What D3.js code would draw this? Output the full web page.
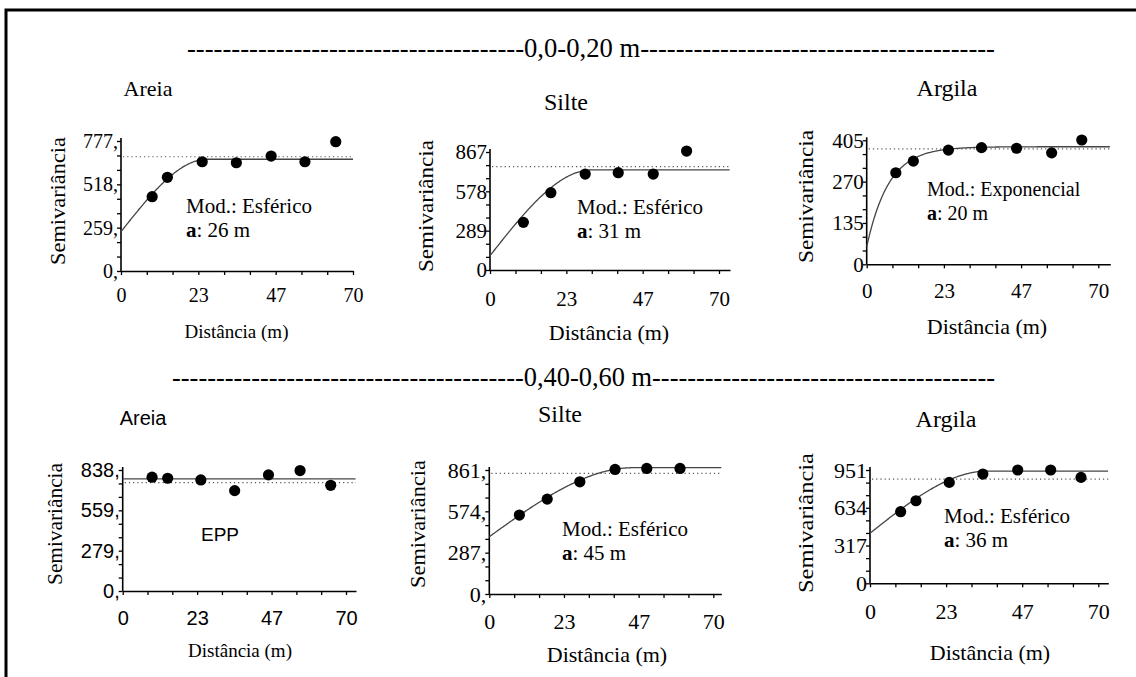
<!DOCTYPE html>
<html>
<head>
<meta charset="utf-8">
<script src="https://cdn.jsdelivr.net/npm/d3@7"></script>
</head>
<body style="margin:0">
<svg id="fig" width="1136" height="677"></svg>
<script>
// Semivariogram data: lag distance (m) and semivariance for each texture fraction
// Depth 0,0-0,20 m
const areiaSupLag   = [9.4, 14.0, 24.5, 34.8, 45.3, 55.5, 64.8];
const areiaSupGamma = [444, 560, 653, 647, 687, 653, 773];
const silteSupLag   = [10.2, 18.6, 29.1, 39.2, 49.9, 60.1];
const silteSupGamma = [350, 568, 705, 715, 705, 874];
const argilaSupLag   = [8.8, 14.1, 24.7, 34.7, 45.3, 55.9, 65.0];
const argilaSupGamma = [299, 337, 373, 381, 379, 364, 406];
// Depth 0,40-0,60 m
const areiaSubLag   = [9.2, 14.1, 24.5, 35.1, 45.7, 55.6, 65.2];
const areiaSubGamma = [788, 781, 769, 695, 804, 834, 732];
const silteSubLag   = [9.4, 18.1, 28.3, 39.3, 49.2, 59.6];
const silteSubGamma = [548, 659, 779, 865, 872, 872];
const argilaSubLag   = [9.4, 14.1, 24.3, 34.6, 45.3, 55.4, 64.7];
const argilaSubGamma = [601, 693, 847, 917, 951, 951, 889];

// Fitted models (panel order: Areia, Silte, Argila at each depth)
const modelName = ["Esférico", "Esférico", "Exponencial", "EPP", "Esférico", "Esférico"];
const nugget    = [235, 105, 57, 776, 398, 420];
const sill      = [668, 735, 384, 776, 877, 942];
const rangeA    = [26, 31, 20, 0, 45, 36];
const sampleVar = [683, 759, 377, 751, 838, 875];

// Axes
const yMax = [777, 867, 405, 838, 861, 951];
const yTickLabels = [
  ["0,", "259,", "518,", "777,"],
  ["0", "289", "578", "867"],
  ["0", "135", "270", "405"],
  ["0,", "279,", "559,", "838,"],
  ["0,", "287,", "574,", "861,"],
  ["0", "317", "634", "951"]
];
const xTickLabels = ["0", "23", "47", "70"];
const xLabelMax = 70;

const panelTitles = ["Areia", "Silte", "Argila", "Areia", "Silte", "Argila"];
const depthLabels = ["0,0-0,20 m", "0,40-0,60 m"];
const yAxisTitle = "Semivariância";
const xAxisTitle = "Distância (m)";

const lags   = [areiaSupLag, silteSupLag, argilaSupLag, areiaSubLag, silteSubLag, argilaSubLag];
const gammas = [areiaSupGamma, silteSupGamma, argilaSupGamma, areiaSubGamma, silteSubGamma, argilaSubGamma];

const SERIF = '"Times New Roman"';
const SANS  = '"Liberation Sans"';

// Layout
const layout = [
  { left: 121,   bottom: 271,   w70: 232,   ext: 0,  h: 130,   xGap: 17, sans: false,
    tickSize: 20, titleSize: 22, titleX: 148, titleY: 96,
    yTitleX: 65, yTitleY: 201, yTitleLen: 128, yTitleSize: 20,
    xTitleX: 236.5, xTitleY: 338, xTitleSize: 19, noteX: 186, noteY: 213, noteSize: 21 },
  { left: 490,   bottom: 270,   w70: 229,   ext: 11, h: 118,   xGap: 21, sans: false,
    tickSize: 21, titleSize: 24, titleX: 566, titleY: 110,
    yTitleX: 433, yTitleY: 206, yTitleLen: 132, yTitleSize: 21,
    xTitleX: 609, xTitleY: 340, xTitleSize: 22, noteX: 577, noteY: 214, noteSize: 21 },
  { left: 866.7, bottom: 264.3, w70: 231.6, ext: 12, h: 124,   xGap: 19, sans: false,
    tickSize: 21, titleSize: 24, titleX: 947, titleY: 96,
    yTitleX: 813, yTitleY: 196.5, yTitleLen: 133, yTitleSize: 21,
    xTitleX: 987, xTitleY: 334, xTitleSize: 22, noteX: 927, noteY: 196, noteSize: 20 },
  { left: 122.7, bottom: 591,   w70: 223.3, ext: 10, h: 121,   xGap: 20, sans: true,
    tickSize: 20, titleSize: 20, titleX: 143, titleY: 425,
    yTitleX: 62, yTitleY: 524, yTitleLen: 122, yTitleSize: 20,
    xTitleX: 240, xTitleY: 657, xTitleSize: 19, noteX: 220, noteY: 541, noteSize: 19 },
  { left: 489.3, bottom: 594,   w70: 224,   ext: 8,  h: 124,   xGap: 19, sans: false,
    tickSize: 22, titleSize: 24, titleX: 560, titleY: 422,
    yTitleX: 425, yTitleY: 524, yTitleLen: 128, yTitleSize: 21,
    xTitleX: 607, xTitleY: 662, xTitleSize: 22, noteX: 562, noteY: 536, noteSize: 21 },
  { left: 870,   bottom: 583.3, w70: 228.3, ext: 10, h: 113.3, xGap: 20, sans: false,
    tickSize: 22, titleSize: 24, titleX: 946, titleY: 427,
    yTitleX: 813, yTitleY: 523, yTitleLen: 140, yTitleSize: 21,
    xTitleX: 990, xTitleY: 660, xTitleSize: 22, noteX: 944, noteY: 523, noteSize: 21 }
];

const headers = [
  { x0: 187, x1: 995, y: 57,  left: 38, right: 40 },
  { x0: 172, x1: 995, y: 386, left: 40, right: 39 }
];

const svg = d3.select("#fig");

// Frame
svg.append("rect")
  .attr("x", 6).attr("y", 10)
  .attr("width", 1400).attr("height", 900)
  .attr("fill", "none").attr("stroke", "#000").attr("stroke-width", 3);

function label(parent, sans, size) {
  return parent.append("text")
    .attr("font-size", size)
    .style("font-family", sans ? SANS : SERIF)
    .attr("fill", "#000");
}

// Depth headers
headers.forEach((hd, i) => {
  label(svg, false, 27)
    .attr("x", hd.x0).attr("y", hd.y)
    .attr("textLength", hd.x1 - hd.x0)
    .attr("lengthAdjust", "spacingAndGlyphs")
    .text("-".repeat(hd.left) + depthLabels[i] + "-".repeat(hd.right));
});

// Semivariogram models
function modelValue(k, hLag) {
  const c0 = nugget[k], c = sill[k] - nugget[k], a = rangeA[k];
  if (modelName[k] === "EPP") return c0;
  if (modelName[k] === "Exponencial") return c0 + c * (1 - Math.exp(-3 * hLag / a));
  if (hLag >= a) return c0 + c;
  const r = hLag / a;
  return c0 + c * (1.5 * r - 0.5 * r * r * r);
}

layout.forEach((L, k) => {
  const g = svg.append("g");
  const xEnd = xLabelMax * (L.w70 + L.ext) / L.w70;
  const x = d3.scaleLinear().domain([0, xEnd]).range([L.left, L.left + L.w70 + L.ext]);
  const y = d3.scaleLinear().domain([0, yMax[k]]).range([L.bottom, L.bottom - L.h]);
  const tickFam = L.sans ? SANS : SERIF;

  // x axis: nine intervals, every third one labelled
  const xTicks = d3.range(10).map(i => i * xLabelMax / 9);
  const gx = g.append("g").attr("transform", `translate(0,${L.bottom})`)
    .call(d3.axisBottom(x).tickValues(xTicks).tickSizeInner(4).tickSizeOuter(0)
      .tickPadding(L.xGap - 4)
      .tickFormat((d, i) => i % 3 === 0 ? xTickLabels[i / 3] : ""));
  gx.attr("font-family", null).attr("font-size", null);
  gx.select(".domain").attr("stroke", "#000").attr("stroke-width", 1.6);
  gx.selectAll(".tick line").attr("stroke", "#000").attr("stroke-width", 1.3);
  gx.selectAll(".tick text").attr("font-size", L.tickSize).style("font-family", tickFam).attr("fill", "#000");

  // y axis
  const yTicks = d3.range(10).map(i => i * yMax[k] / 9);
  const gy = g.append("g").attr("transform", `translate(${L.left},0)`)
    .call(d3.axisLeft(y).tickValues(yTicks).tickSizeInner(4).tickSizeOuter(0)
      .tickPadding(-1)
      .tickFormat((d, i) => i % 3 === 0 ? yTickLabels[k][i / 3] : ""));
  gy.attr("font-family", null).attr("font-size", null);
  gy.select(".domain").remove();
  gy.append("line").attr("x1", 0).attr("x2", 0)
    .attr("y1", L.bottom).attr("y2", L.bottom - L.h - 3)
    .attr("stroke", "#000").attr("stroke-width", 1.6);
  gy.selectAll(".tick line").attr("stroke", "#000").attr("stroke-width", 1.3);
  gy.selectAll(".tick text").attr("font-size", L.tickSize).style("font-family", tickFam).attr("fill", "#000");

  // Sample variance (dotted)
  g.append("line")
    .attr("x1", x(0) + 2).attr("x2", x(xEnd))
    .attr("y1", y(sampleVar[k])).attr("y2", y(sampleVar[k]))
    .attr("stroke", "#555").attr("stroke-width", 1.2).attr("stroke-dasharray", "1.2,3");

  // Fitted model curve
  const hs = d3.range(0, xEnd + 0.001, 0.25);
  g.append("path")
    .datum(hs)
    .attr("fill", "none").attr("stroke", "#444").attr("stroke-width", 1.3)
    .attr("d", d3.line().x(h => x(h)).y(h => y(modelValue(k, h))));

  // Experimental semivariances
  g.selectAll("circle.pt")
    .data(lags[k].map((d, i) => [d, gammas[k][i]]))
    .join("circle").attr("class", "pt")
    .attr("cx", d => x(d[0])).attr("cy", d => y(d[1]))
    .attr("r", 5.6).attr("fill", "#000");

  // Panel title
  label(g, L.sans, L.titleSize)
    .attr("x", L.titleX).attr("y", L.titleY).attr("text-anchor", "middle")
    .text(panelTitles[k]);

  // Axis titles
  label(g, false, L.yTitleSize)
    .attr("transform", `translate(${L.yTitleX},${L.yTitleY}) rotate(-90)`)
    .attr("text-anchor", "middle")
    .attr("textLength", L.yTitleLen).attr("lengthAdjust", "spacingAndGlyphs")
    .text(yAxisTitle);
  label(g, false, L.xTitleSize)
    .attr("x", L.xTitleX).attr("y", L.xTitleY).attr("text-anchor", "middle")
    .text(xAxisTitle);

  // Model annotation
  if (modelName[k] === "EPP") {
    label(g, true, L.noteSize)
      .attr("x", L.noteX).attr("y", L.noteY).attr("text-anchor", "middle")
      .text("EPP");
  } else {
    label(g, false, L.noteSize)
      .attr("x", L.noteX).attr("y", L.noteY)
      .text("Mod.: " + modelName[k]);
    const t2 = label(g, false, L.noteSize).attr("x", L.noteX).attr("y", L.noteY + 24);
    t2.append("tspan").attr("font-weight", "bold").text("a");
    t2.append("tspan").text(": " + rangeA[k] + " m");
  }
});
</script>
</body>
</html>
